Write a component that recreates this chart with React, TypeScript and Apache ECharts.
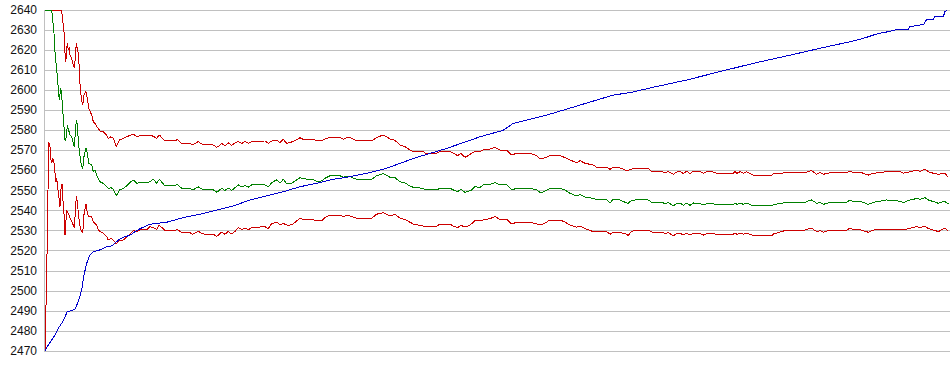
import { useEffect, useRef } from "react";
import * as echarts from "echarts";

// y-axis tick labels
const yTicks = [2470, 2480, 2490, 2500, 2510, 2520, 2530, 2540, 2550, 2560, 2570, 2580, 2590, 2600, 2610, 2620, 2630, 2640];

// shared sample positions of the estimate and its band
const bandT = [
  1, 1.7, 2.7, 3.7, 4, 4.7, 6, 6.7, 7.7, 8.7,
  10, 11, 12, 12.7, 13.3, 14.7, 15.3, 16, 16.7, 17,
  17.7, 18, 18.7, 20, 21, 21.7, 22, 22.3, 22.7, 23.3,
  24.3, 25.3, 26, 27.7, 29.3, 30.3, 31.3, 32.3, 33.3, 34.5,
  35.3, 36.3, 37.7, 38.7, 40, 42, 43.3, 44.7, 47.7, 49.3,
  51, 52.7, 54.3, 56, 59.3, 62.7, 64.3, 67, 69.3, 72.3,
  75.5, 79.3, 82.7, 86, 89.3, 92.7, 96, 102.7, 106, 109.3,
  112.7, 115.3, 121, 131, 133.3, 137.7, 146, 148.7, 154.3, 157.7,
  161, 169.3, 172.7, 174.3, 177.7, 181, 184.3, 187.7, 191, 194.3,
  198, 201, 204.3, 207.7, 221, 224.3, 227.7, 232.7, 236, 239.3,
  242.7, 246, 249.3, 256, 259.3, 269.3, 272.7, 277.7, 281, 286,
  296, 299.3, 302.7, 306, 312.7, 327.7, 332.7, 339.3, 342.7, 346,
  351, 356, 361, 366, 369.3, 379.3, 381, 392.7, 396, 406,
  409.3, 413.5, 417, 421, 424.3, 427.7, 431, 436, 439.3, 446,
  451, 456, 462.7, 467.7, 472.7, 486, 492.7, 496, 499.3, 506,
  516, 521, 526, 532.7, 536, 541, 549.3, 552.7, 562.7, 566,
  569.3, 576, 579.3, 582.7, 584.3, 586, 591, 604.3, 607.7, 617.7,
  621, 624.3, 629.3, 632.7, 636, 639.3, 642.7, 646, 649.3, 652.7,
  656, 659.3, 662.7, 667.7, 672.7, 689.3, 691, 693, 696, 699.3,
  702.7, 709.3, 727.7, 729.3, 742.7, 761, 764, 767.7, 772.7, 776,
  779.3, 786, 802.7, 806, 809.3, 816, 824.3, 829.3, 842.7, 856,
  859.3, 866, 872.7, 876, 881, 884.3, 889.3, 892.7, 894.3, 897.7,
  901, 904.3,
];

const upperVals = [
  2640, 2640, 2640, 2640, 2640, 2640, 2640, 2640, 2640, 2640,
  2640, 2640, 2640, 2640, 2640, 2640, 2640, 2640, 2640, 2640,
  2640, 2638, 2635, 2629.2, 2618.4, 2614.2, 2615.5, 2617.6, 2620, 2623.4,
  2620, 2621.7, 2617.6, 2615.9, 2612.6, 2611, 2616, 2623.4, 2620.9, 2618,
  2610, 2600.1, 2595.1, 2592.6, 2597.6, 2599.3, 2596, 2591, 2587.7, 2584.3,
  2583.5, 2582, 2581, 2579.7, 2579.3, 2577.7, 2576, 2576.8, 2576, 2571.9,
  2575.2, 2576, 2576.8, 2577.5, 2578.2, 2576.8, 2577.3, 2577.3, 2577.7, 2577,
  2576, 2577.7, 2574.7, 2574.7, 2575.5, 2573.5, 2573.5, 2572.7, 2574.4, 2573.2,
  2572.7, 2572.7, 2571.5, 2572, 2573.5, 2572.3, 2573.8, 2572.5, 2573.8, 2574.4,
  2573.5, 2574.5, 2573.5, 2574.4, 2574.7, 2573.5, 2574.7, 2575, 2574, 2575.5,
  2573.5, 2574, 2574.4, 2576.3, 2575.5, 2575.5, 2574.7, 2574.7, 2575.7, 2576.5,
  2576.5, 2575.5, 2576.3, 2576.5, 2574.7, 2574.7, 2576.5, 2577.7, 2576.8, 2575.7,
  2575, 2572.7, 2571.9, 2570.2, 2569.4, 2569.4, 2568.6, 2568.6, 2569.4, 2569.4,
  2568.6, 2567.4, 2568.5, 2566.6, 2567.4, 2568.6, 2569.4, 2569.4, 2570.2, 2570.7,
  2571.5, 2570.2, 2570.2, 2567.7, 2568.6, 2568.6, 2567.4, 2565.7, 2566, 2567.4,
  2567.4, 2566.4, 2565.2, 2563.9, 2564.9, 2563.6, 2562.7, 2561.6, 2561.6, 2560.6,
  2561.6, 2561.3, 2560.6, 2559.9, 2560, 2560.4, 2561.1, 2561.1, 2559.4, 2559.4,
  2558.9, 2559.5, 2558.1, 2559.2, 2559.6, 2558.4, 2559.6, 2558.4, 2559.6, 2559.4,
  2559.4, 2558.6, 2559.4, 2559.4, 2558.6, 2558.6, 2559.4, 2558.6, 2559.4, 2558.6,
  2559.4, 2557.7, 2557.7, 2558.3, 2558.9, 2558.9, 2559.5, 2559.9, 2558.1, 2558.9,
  2558.1, 2558.9, 2558.9, 2559.7, 2558.9, 2559.2, 2557.7, 2558.6, 2559.4, 2559.4,
  2558.6, 2559.4, 2560.2, 2559.6, 2560.6, 2559.4, 2558.6, 2558.4, 2558, 2558.6,
  2558.6, 2556.6,
];

const meanVals = [
  2640, 2640, 2640, 2640, 2640, 2640, 2640, 2640, 2640, 2635,
  2628.4, 2619.2, 2613.4, 2611, 2606.8, 2598.5, 2595.1, 2598, 2601, 2600,
  2598.5, 2595, 2590.1, 2581.8, 2575.2, 2575, 2575.2, 2577, 2578.5, 2582.7,
  2580.5, 2579, 2577.7, 2576.8, 2573.5, 2571.9, 2578.5, 2585.2, 2582.7, 2573.5,
  2570, 2566, 2561.9, 2561, 2566.9, 2571.1, 2568.6, 2563.6, 2562.7, 2559.4,
  2560.2, 2557.5, 2556.1, 2554.4, 2553.5, 2551.9, 2551, 2551.5, 2550.5, 2547.3,
  2550.3, 2551, 2552.3, 2554, 2555.3, 2553.6, 2554, 2553.9, 2554.4, 2555.6,
  2553.6, 2555.6, 2552.3, 2552.3, 2553.1, 2551.1, 2551.1, 2550.3, 2551.8, 2550.8,
  2550.3, 2550.3, 2549.2, 2549.7, 2551.1, 2550, 2551.3, 2550.1, 2551.4, 2552.8,
  2551.7, 2552.5, 2551.7, 2552.8, 2552.8, 2551.8, 2554, 2555.3, 2553.8, 2555.6,
  2553.3, 2553.3, 2554.2, 2556.4, 2555.8, 2555.6, 2554.4, 2554.8, 2556.1, 2557.4,
  2557.4, 2556.5, 2557.2, 2556.9, 2555.6, 2555.6, 2557.4, 2558.4, 2557.6, 2556.6,
  2556.4, 2554.4, 2553.8, 2552.2, 2551.6, 2551.1, 2550.3, 2550.3, 2551.1, 2551.1,
  2550.3, 2549.4, 2550.6, 2549.1, 2549.6, 2550.3, 2551.9, 2551.5, 2552.8, 2553.1,
  2553.9, 2552.8, 2552.8, 2550.3, 2551.1, 2551.1, 2550.3, 2549.1, 2549.3, 2551.1,
  2551.1, 2550.3, 2548.6, 2547.3, 2548, 2546.8, 2546.1, 2545.3, 2545.3, 2543.9,
  2545.6, 2545.3, 2544.5, 2543.9, 2543.6, 2544.6, 2545.3, 2545.3, 2544.1, 2544.1,
  2543.5, 2544, 2542.4, 2543.4, 2543.8, 2542.6, 2543.8, 2542.6, 2543.8, 2543.5,
  2543.5, 2542.8, 2543.5, 2543.5, 2543.1, 2543.1, 2543.8, 2543.1, 2543.8, 2543.1,
  2543.8, 2542.3, 2542.3, 2543, 2544.1, 2544.1, 2544.8, 2545.3, 2543.6, 2544.1,
  2543.1, 2544.1, 2544.1, 2545.3, 2544.4, 2544.7, 2543.1, 2544.1, 2545.3, 2544.7,
  2544, 2545.3, 2546, 2545.6, 2546.5, 2545.3, 2544.5, 2544, 2543.6, 2544.3,
  2544.5, 2543.3,
];

const lowerVals = [
  2470, 2485, 2510, 2536, 2550, 2574.4, 2571.9, 2566.1, 2563.6, 2566.1,
  2563.6, 2559, 2554.4, 2556.1, 2553.6, 2547, 2545.3, 2542, 2547, 2550.9,
  2552, 2553.4, 2546.8, 2538.4, 2527.6, 2531, 2535.3, 2537.5, 2540.3, 2539.5,
  2538.7, 2537.2, 2536.2, 2534.5, 2532.8, 2531.2, 2538.7, 2547, 2544.5, 2537.8,
  2535, 2531.5, 2529.5, 2528.7, 2538, 2543.1, 2538.7, 2537, 2537, 2534.5,
  2533.5, 2532.8, 2530.3, 2529.5, 2528.7, 2527, 2525.3, 2526.1, 2525.3, 2523.4,
  2525.3, 2525.3, 2527, 2528.3, 2530, 2529.5, 2530.5, 2530.5, 2532, 2531.5,
  2530.7, 2532.8, 2530, 2530, 2530.7, 2529, 2529, 2528.2, 2529.7, 2528.7,
  2528.2, 2528.2, 2527.2, 2527.8, 2529.3, 2528.2, 2529.6, 2528.3, 2529.6, 2531.5,
  2530.5, 2531.3, 2530.5, 2531.5, 2532, 2531, 2533.5, 2534.2, 2533, 2533.6,
  2532.8, 2532.8, 2533.4, 2536.2, 2535.6, 2535.4, 2535, 2535, 2536.6, 2537.8,
  2537.8, 2537, 2537.7, 2537.3, 2536.2, 2536.2, 2538.2, 2539, 2538.2, 2537.3,
  2538.2, 2536.2, 2535.6, 2534.2, 2533.3, 2532.3, 2532.3, 2532.3, 2533.3, 2533.3,
  2532.3, 2531.5, 2532.5, 2532, 2532.3, 2533.5, 2535, 2534.8, 2535.3, 2536,
  2537, 2535.6, 2535.6, 2533.3, 2534.2, 2534.2, 2533.3, 2533, 2533.3, 2535.3,
  2535.3, 2534.3, 2532.8, 2531.7, 2532.3, 2531, 2529.5, 2529.5, 2529.5, 2528.2,
  2529.3, 2529.3, 2528.6, 2528.2, 2527.5, 2529, 2530.3, 2530.3, 2529.3, 2529.3,
  2528.5, 2529, 2527.5, 2528.5, 2528.8, 2527.8, 2528.8, 2527.8, 2528.8, 2528.5,
  2528.5, 2527.8, 2528.5, 2528.5, 2528.2, 2528.2, 2528.8, 2528.2, 2528.8, 2528.2,
  2528.8, 2527.5, 2527.5, 2528.3, 2530.3, 2530.3, 2530.8, 2531.2, 2529.5, 2530,
  2529.2, 2530.3, 2530.3, 2531.2, 2530.5, 2530.5, 2529.2, 2530.3, 2530.8, 2530.8,
  2530.3, 2531.2, 2532, 2531.6, 2532.2, 2531, 2530.3, 2529.8, 2529.4, 2530.5,
  2531.2, 2529.8,
];

// rising (blue) series
const blueT = [
  1, 4.3, 7.7, 11, 14.3, 17.7, 21, 23.3, 27.7, 31,
  34.3, 37.7, 40, 42.7, 46, 49.3, 52.7, 57.7, 62.7, 67.7,
  71, 74.3, 79.3, 86, 91, 96, 106, 122.7, 139.3, 156,
  172.7, 189.3, 206, 222.7, 239.3, 256, 272.7, 289.3, 306, 322.7,
  339.3, 356, 369.3, 402.7, 436, 459, 469.3, 502.7, 536, 569.3,
  586, 609.3, 642.7, 676, 709.3, 742.7, 776, 806, 816, 822.7,
  829.3, 836, 844.3, 854.3, 864.3, 866, 876, 880, 882.7, 889.3,
  891, 899.3, 901, 903.3,
];
const blueVals = [
  2470, 2473, 2475.5, 2478, 2481.3, 2483.8, 2487.1, 2489.6, 2490.1, 2490.8,
  2494.6, 2500.4, 2507.9, 2513.7, 2517.9, 2519.5, 2519.9, 2520.7, 2522, 2522.4,
  2523.7, 2525.3, 2526.7, 2527.7, 2529.5, 2531, 2533.2, 2534.2, 2536.5, 2538.2,
  2540.3, 2542.3, 2545.3, 2547.3, 2549.4, 2551.9, 2553.6, 2555.6, 2556.9, 2558.6,
  2560.6, 2563.5, 2566, 2571, 2576.8, 2580, 2583.5, 2587.6, 2592.6, 2597.6,
  2598.8, 2601.5, 2605.1, 2609.3, 2613.4, 2617.1, 2620.9, 2624.2, 2625.4, 2626.4,
  2627.5, 2628.4, 2629.2, 2630.4, 2630.4, 2631.7, 2632.5, 2633, 2635.4, 2635.4,
  2636.7, 2636.7, 2639.2, 2640,
];

const RED = "#cc0000";
const GREEN = "#008000";
const BLUE = "#0000cc";

function pairs(xs: number[], ys: number[]) {
  return xs.map((x, i) => [x, ys[i]]);
}

export default function App() {
  const ref = useRef<HTMLDivElement>(null);

  useEffect(() => {
    if (!ref.current) return;
    const chart = echarts.init(ref.current, null, { renderer: "svg" });
    const lineSeries = (name: string, data: number[][], color: string) => ({
      name,
      type: "line",
      data,
      showSymbol: false,
      symbol: "none",
      silent: true,
      lineStyle: { width: 1, color },
      itemStyle: { color },
      emphasis: { disabled: true },
    });
    chart.setOption({
      animation: false,
      backgroundColor: "#ffffff",
      grid: { left: 44, right: 0, top: 10, bottom: 24 },
      xAxis: {
        type: "value",
        min: 0,
        max: 906,
        show: false,
      },
      yAxis: {
        type: "value",
        min: yTicks[0],
        max: yTicks[yTicks.length - 1],
        interval: 10,
        axisLine: { show: true, onZero: false, lineStyle: { color: "#c0c0c0", width: 1 } },
        axisTick: { show: false },
        splitLine: { show: true, lineStyle: { color: "#c0c0c0", width: 1 } },
        axisLabel: {
          color: "#111111",
          fontSize: 12,
          fontFamily: "Liberation Sans, Arial, sans-serif",
          margin: 7,
          formatter: (v: number) => String(v),
        },
      },
      series: [
        lineSeries("upper", pairs(bandT, upperVals), RED),
        lineSeries("lower", pairs(bandT, lowerVals), RED),
        lineSeries("mean", pairs(bandT, meanVals), GREEN),
        lineSeries("rising", pairs(blueT, blueVals), BLUE),
      ],
    });
    return () => chart.dispose();
  }, []);

  return (
    <>
      <style>{".crisp-chart svg path { shape-rendering: crispEdges; }"}</style>
      <div
        ref={ref}
        className="crisp-chart"
        style={{ position: "fixed", left: 0, top: 0, width: 950, height: 375, background: "#ffffff" }}
      />
    </>
  );
}
